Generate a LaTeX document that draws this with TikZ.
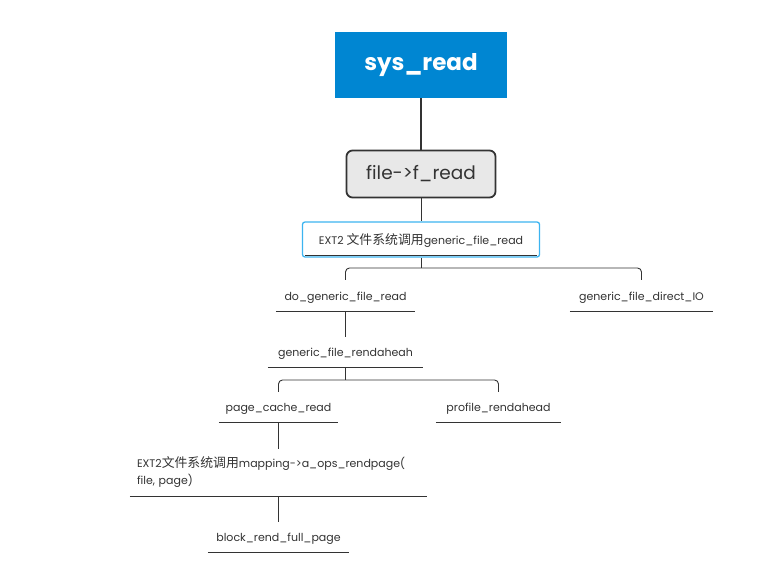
\documentclass[tikz,border=0pt]{standalone}
\usepackage{fontspec}
\setmainfont{Poppins}
\newfontfamily\cjk[Scale=1.17]{Noto Sans CJK SC}
\usetikzlibrary{positioning}
\definecolor{sysblue}{RGB}{0,134,210}
\definecolor{ink}{RGB}{51,51,51}
\definecolor{lblue}{RGB}{60,180,240}
\definecolor{lgray}{RGB}{232,232,232}
\begin{document}
\begin{tikzpicture}[x=1pt,y=-1pt,
  lbl/.style={inner sep=0pt, text=ink, font=\fontsize{11}{17}\selectfont},
  one/.style={text height=10.5pt, text depth=1pt},
  conn/.style={draw=ink, line width=0.9pt},
  uline/.style={draw=ink, line width=0.9pt}]
\useasboundingbox (0,0) rectangle (762,575);
\fill[white] (0,0) rectangle (762,575);
% top boxes
\node[fill=sysblue, text=white, font=\fontsize{23}{28}\bfseries\selectfont, minimum width=172pt, minimum height=66pt, inner sep=0pt] (sys) at (421,65) {sys\_read};
\node[fill=lgray, draw=ink, line width=1.8pt, rounded corners=6pt, text=ink, font=\fontsize{18.5}{23}\selectfont, minimum width=149pt, minimum height=47pt, inner sep=0pt] (fread) at (421,174) {file->f\_read};
\node[draw=lblue, line width=1.3pt, rounded corners=2.5pt, lbl, one, minimum width=237pt, minimum height=35pt] (ext) at (421,239.5) {EXT2 {\cjk 文件系统调用}generic\_file\_read};
\draw[uline] ([xshift=3pt,yshift=2pt]ext.south west) -- ([xshift=-3pt,yshift=2pt]ext.south east);
\draw[ink, line width=1.8pt] (sys.south) -- (fread.north);
\draw[conn] (fread.south) -- (ext.north);
% level 2
\node[lbl, one, minimum width=139pt, minimum height=31pt] (dgfr) at (345.5,295.5) {do\_generic\_file\_read};
\node[lbl, one, minimum width=143pt, minimum height=31pt] (gfdio) at (641.5,295.5) {generic\_file\_direct\_IO};
\coordinate (j1) at (421,268);
\draw[conn] (ext.south) -- (j1);
\draw[conn, rounded corners=4pt] (dgfr.north) |- (j1) -| (gfdio.north);
% level 3
\node[lbl, one, minimum width=155pt, minimum height=30pt] (gfrd) at (345.5,352) {generic\_file\_rendaheah};
\draw[conn] (dgfr.south) -- (gfrd.north);
% level 4
\node[lbl, one, minimum width=119pt, minimum height=30pt] (pcr) at (278.5,407) {page\_cache\_read};
\node[lbl, one, minimum width=125pt, minimum height=30pt] (prd) at (498.5,407) {profile\_rendahead};
\coordinate (j2) at (345.5,380);
\draw[conn] (gfrd.south) -- (j2);
\draw[conn, rounded corners=4pt] (pcr.north) |- (j2) -| (prd.north);
% level 5
\node[lbl, minimum width=297pt, minimum height=47pt, text width=283pt, align=left] (map) at (278.5,472.5) {EXT2{\cjk 文件系统调用}mapping->a\_ops\_rendpage(\\file, page)};
\draw[conn] (pcr.south) -- (map.north);
% level 6
\node[lbl, one, minimum width=141pt, minimum height=30pt] (brfp) at (278.5,537) {block\_rend\_full\_page};
\draw[conn] (map.south) -- (brfp.north);
% underlines
\foreach \n in {dgfr,gfdio,gfrd,pcr,prd,map,brfp}
  \draw[uline] (\n.south west) -- (\n.south east);
\end{tikzpicture}
\end{document}
